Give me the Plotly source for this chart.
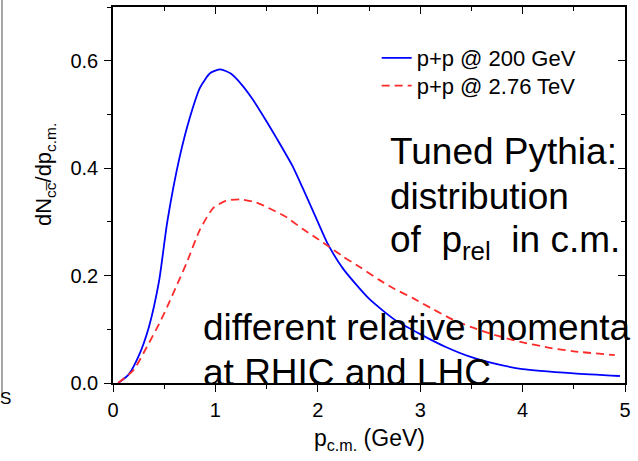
import plotly.graph_objects as go

# ---- data ----
p_cm_200 = [0.05, 0.15, 0.25, 0.35, 0.45, 0.53, 0.65, 0.75, 0.85, 0.95, 1.05, 1.15,
            1.25, 1.35, 1.5, 1.6, 1.75, 1.85, 2.0, 2.1, 2.25, 2.5, 2.75, 3.0, 3.25,
            3.5, 3.75, 4.0, 4.5, 4.95]
dn_200 = [0.0, 0.015, 0.05, 0.104, 0.19, 0.30, 0.42, 0.494, 0.55, 0.577, 0.584, 0.576,
          0.557, 0.532, 0.487, 0.455, 0.405, 0.364, 0.30, 0.258, 0.212, 0.157, 0.118,
          0.091, 0.067, 0.048, 0.035, 0.026, 0.018, 0.013]

p_cm_276 = [0.05, 0.2, 0.33, 0.45, 0.53, 0.63, 0.72, 0.85, 0.98, 1.1, 1.24, 1.4, 1.55,
            1.7, 1.85, 2.0, 2.1, 2.25, 2.41, 2.6, 2.75, 2.93, 3.1, 3.32, 3.5, 3.75,
            3.97, 4.25, 4.5, 4.9]
dn_276 = [0.0, 0.024, 0.067, 0.11, 0.142, 0.185, 0.224, 0.286, 0.326, 0.339, 0.342,
          0.336, 0.323, 0.308, 0.287, 0.268, 0.255, 0.235, 0.216, 0.192, 0.175, 0.158,
          0.14, 0.118, 0.104, 0.088, 0.077, 0.066, 0.059, 0.052]

series_names = ["p+p @ 200 GeV", "p+p @ 2.76 TeV"]
x_range = [0, 5]
y_range = [0, 0.70]
x_ticks = [0, 1, 2, 3, 4, 5]
y_ticks = [0.0, 0.2, 0.4, 0.6]
y_tick_text = ["0.0", "0.2", "0.4", "0.6"]

FONT = "Liberation Sans, Arial, sans-serif"

fig = go.Figure()
fig.add_trace(go.Scatter(x=p_cm_200, y=dn_200, mode="lines", name=series_names[0],
                         legend="legend",
                         line=dict(color="#0000ff", width=1.8, shape="spline", smoothing=0.6)))
fig.add_trace(go.Scatter(x=p_cm_276, y=dn_276, mode="lines", name=series_names[1],
                         legend="legend2",
                         line=dict(color="#ff2a2a", width=1.8, dash="8px,5px",
                                   shape="spline", smoothing=0.6)))
# dummy trace for mirrored (inside-tick) top/right axes
fig.add_trace(go.Scatter(x=[None], y=[None], xaxis="x2", yaxis="y2", showlegend=False,
                         hoverinfo="skip"))

axis_common = dict(showline=True, linecolor="black", linewidth=1.5, showgrid=False,
                   zeroline=False, tickcolor="black", tickwidth=1.2)

legend_common = dict(xanchor="left", yanchor="top", bgcolor="rgba(0,0,0,0)",
                     font=dict(size=22, family=FONT), itemwidth=30)

fig.update_layout(
    width=638, height=461,
    margin=dict(l=113, r=13, t=7, b=78),
    paper_bgcolor="white", plot_bgcolor="white",
    font=dict(family=FONT, color="black"),
    xaxis=dict(range=x_range, tickvals=x_ticks, ticks="outside", ticklen=7,
               tickfont=dict(size=20), ticklabelstandoff=1,
               minor=dict(ticks="outside", ticklen=4, dtick=0.5, tickcolor="black",
                          tickwidth=1.2),
               **axis_common),
    yaxis=dict(range=y_range, tickvals=y_ticks, ticktext=y_tick_text, ticks="outside",
               ticklen=7, tickfont=dict(size=20), ticklabelstandoff=2,
               minor=dict(ticks="outside", ticklen=4, dtick=0.1, tickcolor="black",
                          tickwidth=1.2),
               **axis_common),
    xaxis2=dict(range=x_range, overlaying="x", side="top", anchor="y2",
                tickvals=x_ticks, ticks="inside", ticklen=7, showticklabels=False,
                minor=dict(ticks="inside", ticklen=4, dtick=0.5, tickcolor="black",
                           tickwidth=1.2),
                **axis_common),
    yaxis2=dict(range=y_range, overlaying="y", side="right", anchor="x2",
                tickvals=y_ticks, ticks="inside", ticklen=7, showticklabels=False,
                minor=dict(ticks="inside", ticklen=4, dtick=0.1, tickcolor="black",
                           tickwidth=1.2),
                **axis_common),
    legend=dict(x=0.515, y=0.92, **legend_common),
    legend2=dict(x=0.515, y=0.846, **legend_common),
    showlegend=True,
)

def px2paper(px, py):
    return (px - 113) / 512.0, (383 - py) / 376.0

annots = [
    ("Tuned Pythia:", 388, 152, 37),
    ("distribution", 388, 197, 37),
    ("of  p<sub>rel</sub>  in c.m.", 388, 242, 37),
    ("different relative momenta", 201, 327, 37),
    ("at RHIC and LHC", 201, 372, 37),
]
for txt, px, py, sz in annots:
    xp, yp = px2paper(px, py)
    fig.add_annotation(text=txt, x=xp, y=yp, xref="paper", yref="paper",
                       xanchor="left", yanchor="middle", showarrow=False,
                       font=dict(size=sz, family=FONT, color="black"))

# axis titles
xp, yp = px2paper(369, 439)
fig.add_annotation(text="p<sub>c.m.</sub> (GeV)", x=xp, y=yp, xref="paper", yref="paper",
                   xanchor="center", yanchor="middle", showarrow=False,
                   font=dict(size=23, family=FONT))
xp, yp = px2paper(45, 175)
fig.add_annotation(text="dN<sub>cc\u0305</sub>/dp<sub>c.m.</sub>", x=xp, y=yp,
                   xref="paper", yref="paper", textangle=-90,
                   xanchor="center", yanchor="middle", showarrow=False,
                   font=dict(size=22, family=FONT))

# cropped-slide artefact on the far left
x0, _ = px2paper(2, 0)
_, y0 = px2paper(0, 398)
_, y1 = px2paper(0, 0)
fig.add_shape(type="line", xref="paper", yref="paper", x0=x0, x1=x0, y0=y0, y1=y1,
              line=dict(color="#888888", width=1.5))
xp, yp = px2paper(5, 398)
fig.add_annotation(text="S", x=xp, y=yp, xref="paper", yref="paper", showarrow=False,
                   xanchor="center", yanchor="middle", font=dict(size=17, family=FONT))

fig.write_html("out.html")
